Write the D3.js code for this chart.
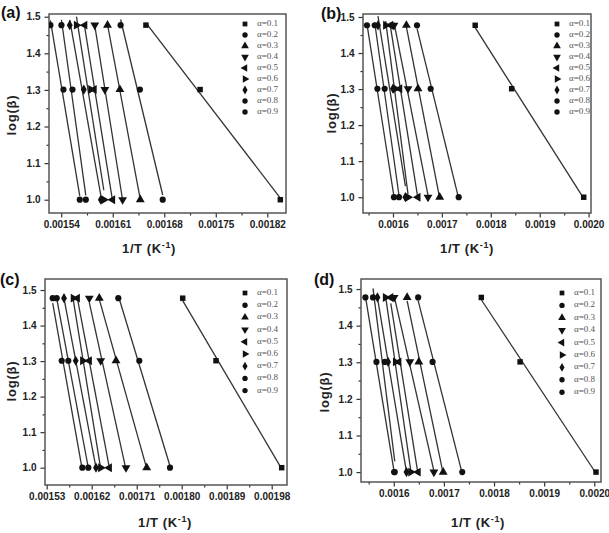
<!DOCTYPE html>
<html>
<head>
<meta charset="utf-8">
<script src="https://cdn.jsdelivr.net/npm/d3@7"></script>
<style>
body { margin: 0; background: #fff; }
svg { display: block; }
</style>
</head>
<body>
<div class="chart"></div>
<script>
// log(beta) for beta = 30, 20, 10 K/min
const logBeta = [1.477, 1.301, 1.0]
const alphaLabels = ['α=0.1', 'α=0.2', 'α=0.3', 'α=0.4', 'α=0.5', 'α=0.6', 'α=0.7', 'α=0.8', 'α=0.9']
const yTicks = [1.0, 1.1, 1.2, 1.3, 1.4, 1.5]

const xTicksA = [0.00154, 0.00161, 0.00168, 0.00175, 0.00182]
const xTicksB = [0.0016, 0.0017, 0.0018, 0.0019, 0.0020]
const xTicksC = [0.00153, 0.00162, 0.00171, 0.00180, 0.00189, 0.00198]
const xTicksD = [0.0016, 0.0017, 0.0018, 0.0019, 0.0020]

// 1/T, one row per alpha, columns follow logBeta
const invTA = [
  [0.0016551, 0.0017287, 0.0018377],
  [0.0016207, 0.0016469, 0.0016779],
  [0.0016029, 0.0016197, 0.0016474],
  [0.0015856, 0.0015993, 0.0016234],
  [0.0015720, 0.0015847, 0.0016098],
  [0.0015607, 0.0015802, 0.0015979],
  [0.0015516, 0.0015707, 0.0015938],
  [0.0015403, 0.0015553, 0.0015734],
  [0.0015253, 0.0015430, 0.0015652]
]
const invTB = [
  [0.0017681, 0.0018427, 0.0019900],
  [0.0016491, 0.0016771, 0.0017344],
  [0.0016274, 0.0016511, 0.0016955],
  [0.0016020, 0.0016307, 0.0016716],
  [0.0015953, 0.0016137, 0.0016511],
  [0.0015851, 0.0016049, 0.0016307],
  [0.0015693, 0.0016000, 0.0016254],
  [0.0015626, 0.0015830, 0.0016123],
  [0.0015468, 0.0015681, 0.0016020]
]
const invTC = [
  [0.0018020, 0.0018686, 0.0020000],
  [0.0016732, 0.0017152, 0.0017766],
  [0.0016352, 0.0016686, 0.0017300],
  [0.0016152, 0.0016380, 0.0016886],
  [0.0015912, 0.0016152, 0.0016552],
  [0.0015832, 0.0016020, 0.0016380],
  [0.0015646, 0.0015880, 0.0016286],
  [0.0015500, 0.0015732, 0.0016132],
  [0.0015420, 0.0015600, 0.0016012]
]
const invTD = [
  [0.0017746, 0.0018520, 0.0020034],
  [0.0016486, 0.0016774, 0.0017366],
  [0.0016266, 0.0016500, 0.0016986],
  [0.0016006, 0.0016320, 0.0016800],
  [0.0015940, 0.0016100, 0.0016486],
  [0.0015834, 0.0016034, 0.0016340],
  [0.0015674, 0.0015886, 0.0016254],
  [0.0015586, 0.0015820, 0.0016020],
  [0.0015434, 0.0015654, 0.0016006]
]

const symbols = [
  {type: d3.symbolSquare, size: 30, rotate: 0},
  {type: d3.symbolCircle, size: 30, rotate: 0},
  {type: d3.symbolTriangle, size: 34, rotate: 0},
  {type: d3.symbolTriangle, size: 34, rotate: 180},
  {type: d3.symbolTriangle, size: 34, rotate: -90},
  {type: d3.symbolTriangle, size: 34, rotate: 90},
  {type: d3.symbolDiamond, size: 30, rotate: 0},
  {type: d3.symbolCircle, size: 30, rotate: 0},
  {type: d3.symbolCircle, size: 30, rotate: 0}
]

const panels = [
  {id: 'a', data: invTA, ticks: xTicksA, fmt: '.5f',
   box: {l: 49, t: 14, r: 286, b: 213}, xDom: [0.0015234, 0.0018454], yDom: [0.9637, 1.5074],
   label: [1, 18], legend: {x: 245, y: 24, dy: 11}, ytitle: [13, 115], xtitle: [149, 253]},
  {id: 'b', data: invTB, ticks: xTicksB, fmt: '.4f',
   box: {l: 363, t: 14, r: 591, b: 213}, xDom: [0.0015387, 0.0020049], yDom: [0.9562, 1.5083],
   label: [321, 19], legend: {x: 557, y: 24, dy: 11}, ytitle: [333, 113], xtitle: [467, 253]},
  {id: 'c', data: invTC, ticks: xTicksC, fmt: '.5f',
   box: {l: 45, t: 279, r: 287, b: 485}, xDom: [0.0015266, 0.0020106], yDom: [0.9513, 1.531],
   label: [0, 285], legend: {x: 245, y: 293, dy: 12.2}, ytitle: [13, 381], xtitle: [165, 527]},
  {id: 'd', data: invTD, ticks: xTicksD, fmt: '.4f',
   box: {l: 361, t: 279, r: 601, b: 482}, xDom: [0.0015346, 0.0020134], yDom: [0.9729, 1.5274],
   label: [314, 285], legend: {x: 562, y: 293, dy: 12.4}, ytitle: [326, 392], xtitle: [478, 527]}
]

const svg = d3.select('.chart').append('svg')
  .attr('width', 609)
  .attr('height', 533)

const fit = (xs, ys) => {
  const mx = d3.mean(xs), my = d3.mean(ys)
  let sxy = 0, sxx = 0
  xs.forEach((x, i) => { sxy += (x - mx) * (ys[i] - my); sxx += (x - mx) * (x - mx) })
  const k = sxy / sxx
  return x => my + k * (x - mx)
}

const drawPanel = (p) => {
  const b = p.box
  const x = d3.scaleLinear().domain(p.xDom).range([b.l, b.r])
  const y = d3.scaleLinear().domain(p.yDom).range([b.b, b.t])
  const g = svg.append('g')

  g.append('clipPath').attr('id', 'clip-' + p.id)
    .append('rect')
    .attr('x', b.l).attr('y', b.t)
    .attr('width', b.r - b.l).attr('height', b.b - b.t)

  // minor ticks halfway between majors
  const step = p.ticks[1] - p.ticks[0]
  const xMinor = p.ticks.map(t => t + step / 2).concat([p.ticks[0] - step / 2])
    .filter(t => t > p.xDom[0] && t < p.xDom[1])
  const yMinor = yTicks.map(t => t + 0.05).concat([0.95]).filter(t => t > p.yDom[0] && t < p.yDom[1])

  g.append('g')
    .attr('transform', `translate(0,${ b.b })`)
    .call(d3.axisBottom(x).tickValues(xMinor).tickSize(2.5).tickFormat(''))
  g.append('g')
    .attr('transform', `translate(0,${ b.b })`)
    .call(d3.axisBottom(x).tickValues(p.ticks).tickSize(4.5).tickPadding(3).tickFormat(d3.format(p.fmt)))
  g.append('g')
    .attr('transform', `translate(${ b.l },0)`)
    .call(d3.axisLeft(y).tickValues(yMinor).tickSize(2.5).tickFormat(''))
  g.append('g')
    .attr('transform', `translate(${ b.l },0)`)
    .call(d3.axisLeft(y).tickValues(yTicks).tickSize(4.5).tickPadding(4).tickFormat(d3.format('.1f')))

  g.selectAll('.domain').remove()
  g.selectAll('.tick line').attr('stroke', '#333').attr('stroke-width', 1.2)
  g.selectAll('.tick text')
    .attr('fill', '#222')
    .style('font', 'bold 10px "Liberation Sans", Arial, sans-serif')

  g.append('rect')
    .attr('x', b.l).attr('y', b.t)
    .attr('width', b.r - b.l).attr('height', b.b - b.t)
    .attr('fill', 'none')
    .attr('stroke', '#555')
    .attr('stroke-width', 1.5)

  // fitted lines over each series' x range
  const plot = g.append('g').attr('clip-path', `url(#clip-${ p.id })`)
  p.data.forEach((xs, i) => {
    const f = fit(xs, logBeta)
    const ext = d3.extent(xs)
    plot.append('line')
      .attr('x1', x(ext[0])).attr('y1', y(f(ext[0])))
      .attr('x2', x(ext[1])).attr('y2', y(f(ext[1])))
      .attr('stroke', '#333')
      .attr('stroke-width', 1.3)
  })

  p.data.forEach((xs, i) => {
    const s = symbols[i]
    plot.selectAll(null)
      .data(xs.map((v, j) => [v, logBeta[j]]))
      .enter()
      .append('path')
      .attr('d', d3.symbol().type(s.type).size(s.size))
      .attr('transform', d => `translate(${ x(d[0]) },${ y(d[1]) }) rotate(${ s.rotate })`)
      .attr('fill', '#111')
  })

  // legend
  const lg = g.append('g')
  alphaLabels.forEach((t, i) => {
    const s = symbols[i]
    const ly = p.legend.y + i * p.legend.dy
    lg.append('path')
      .attr('d', d3.symbol().type(s.type).size(s.size * 0.75))
      .attr('transform', `translate(${ p.legend.x },${ ly }) rotate(${ s.rotate })`)
      .attr('fill', '#111')
    lg.append('text')
      .attr('x', p.legend.x + 12)
      .attr('y', ly)
      .attr('dominant-baseline', 'middle')
      .attr('fill', '#555')
      .style('font', '9px "Liberation Serif", "Times New Roman", serif')
      .text(t)
  })

  g.append('text')
    .attr('x', p.label[0]).attr('y', p.label[1])
    .style('font', 'bold 16px "Liberation Sans", Arial, sans-serif')
    .attr('fill', '#111')
    .text(`(${ p.id })`)

  const xt = g.append('text')
    .attr('x', p.xtitle[0]).attr('y', p.xtitle[1])
    .attr('text-anchor', 'middle')
    .attr('fill', '#222')
    .style('font', 'bold 13px "Liberation Sans", Arial, sans-serif')
    .style('letter-spacing', '0.6px')
  xt.append('tspan').text('1/T (K')
  xt.append('tspan').attr('dy', -5).style('font-size', '9px').text('-1')
  xt.append('tspan').attr('dy', 5).text(')')

  g.append('text')
    .attr('transform', `translate(${ p.ytitle[0] },${ p.ytitle[1] }) rotate(-90)`)
    .attr('text-anchor', 'middle')
    .attr('dominant-baseline', 'middle')
    .attr('fill', '#222')
    .style('font', 'bold 13px "Liberation Sans", Arial, sans-serif')
    .style('letter-spacing', '0.8px')
    .text('log(β)')
}

panels.forEach(drawPanel)
</script>
</body>
</html>
